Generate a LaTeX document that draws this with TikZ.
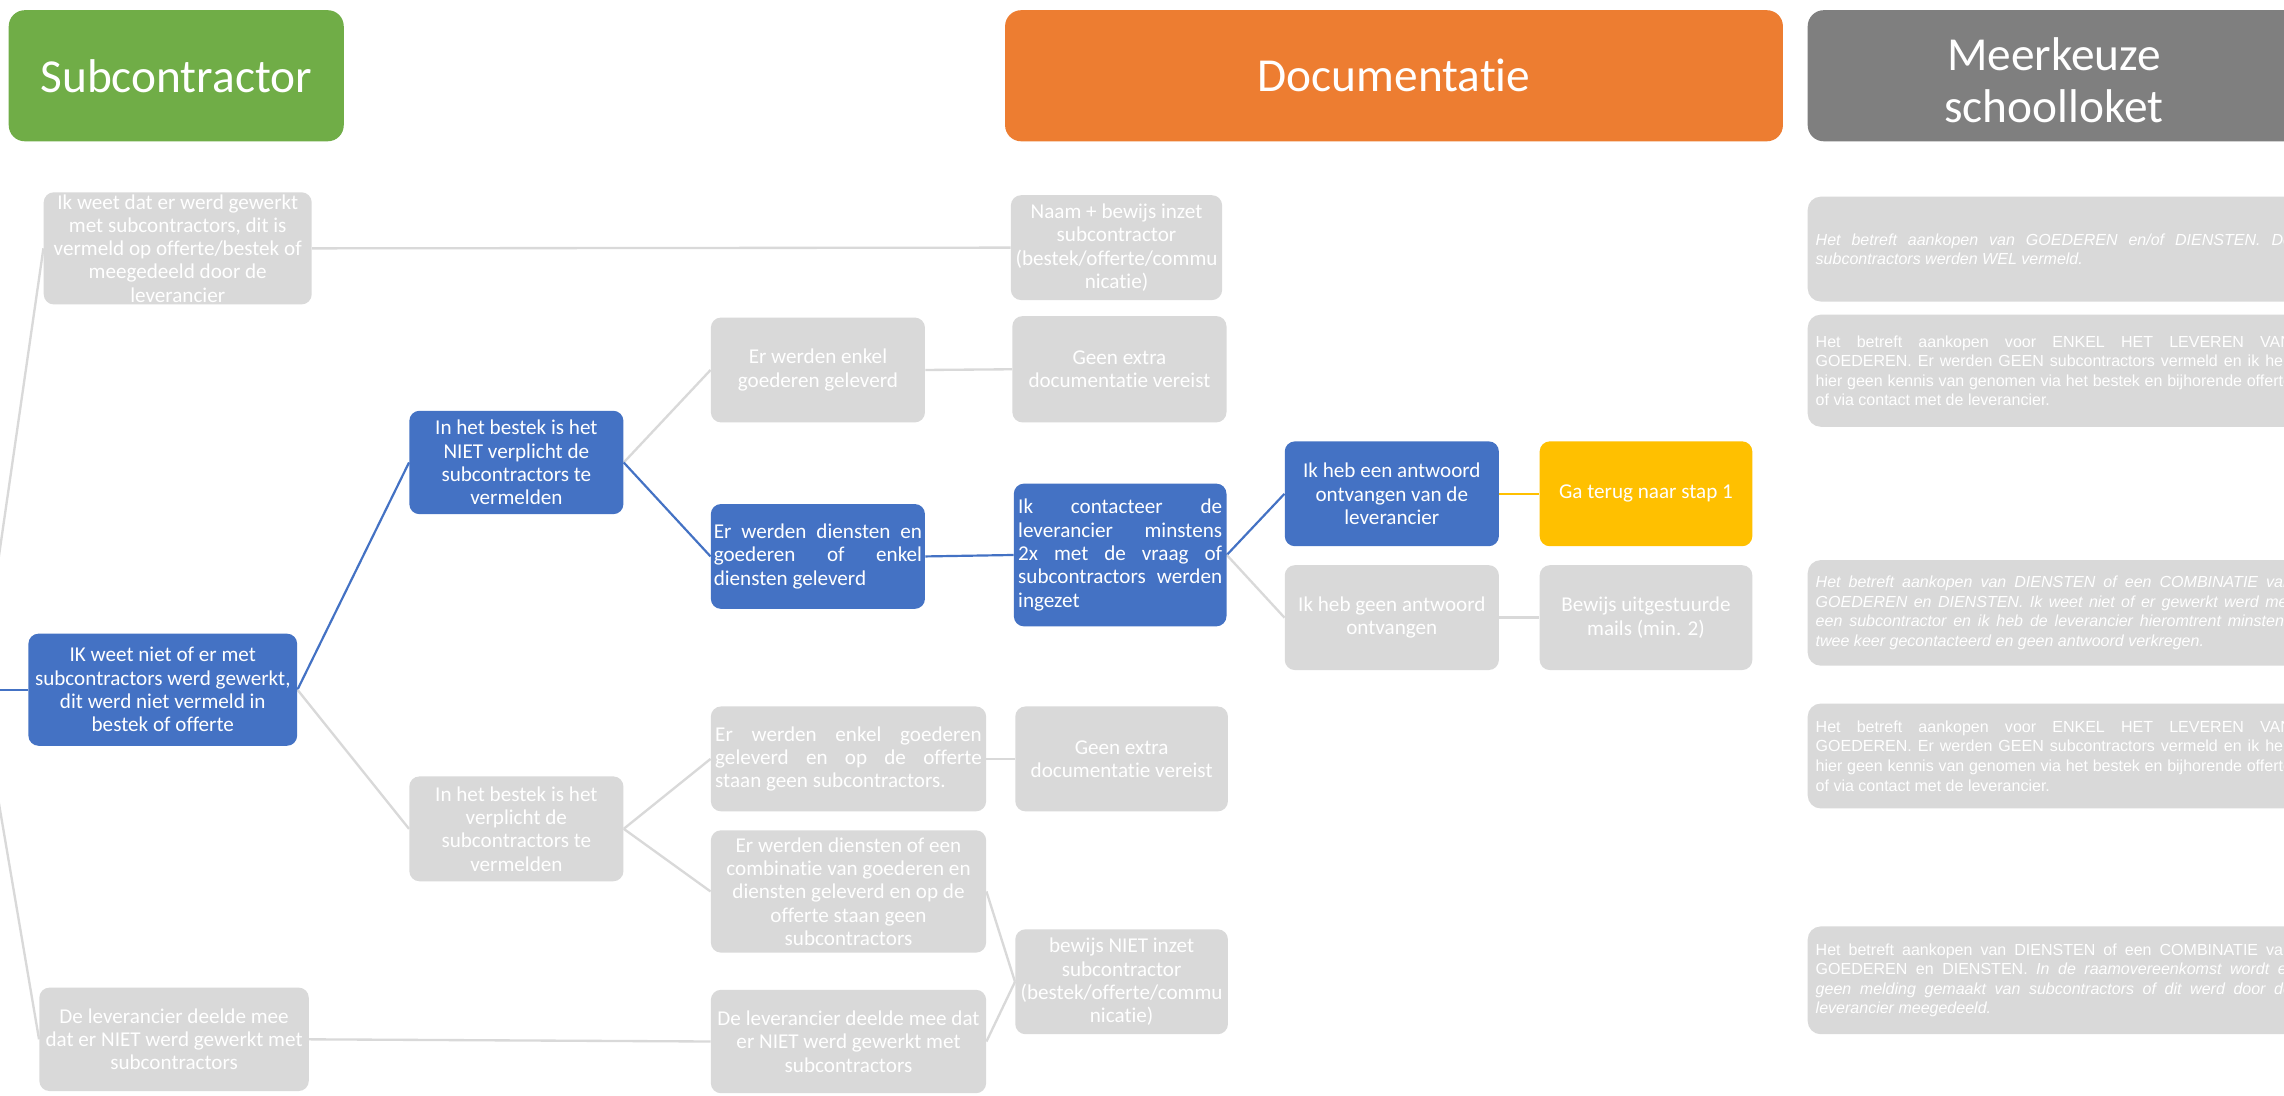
\documentclass[tikz,border=0pt]{standalone}
\usepackage{fontspec}
\setmainfont{Carlito}[Ligatures=NoCommon]
\newfontfamily\arialf{Liberation Sans}
\usetikzlibrary{backgrounds}
\definecolor{cblue}{HTML}{4472C4}
\definecolor{cgray}{HTML}{D9D9D9}
\definecolor{cgreen}{HTML}{70AD47}
\definecolor{corange}{HTML}{ED7D31}
\definecolor{cdark}{HTML}{7F7F7F}
\definecolor{cyellow}{HTML}{FFC000}
\newcommand{\jline}[2]{\makebox[#1][s]{#2}}
\newcommand{\lline}[2]{\makebox[#1][l]{#2}}
\tikzset{
  box/.style={rounded corners=7pt, inner sep=0pt, text=white, align=center,
    font=\fontsize{14.5}{16}\selectfont},
  gbox/.style={box, fill=cgray},
  bbox/.style={box, fill=cblue},
  ybox/.style={box, fill=cyellow},
  sz/.style 2 args={minimum width=#1, minimum height=#2},
  hdr/.style={rounded corners=11pt, inner sep=0pt, text=white, align=center,
    minimum height=90pt, font=\fontsize{32.5}{36}\selectfont},
  hdrtext/.style={inner sep=0pt, text=white, align=center, font=\fontsize{32.5}{36}\selectfont},
  rbox/.style={rounded corners=9pt, fill=cgray, inner sep=0pt, text=white, align=left,
    minimum width=338pt, font=\arialf\fontsize{11}{13.4}\selectfont},
  rboxi/.style={rbox, font=\arialf\itshape\fontsize{11}{13.4}\selectfont},
  gline/.style={draw=cgray, line width=1.6pt},
  bline/.style={draw=cblue, line width=1.5pt},
  yline/.style={draw=cyellow, line width=1.5pt}
}
\begin{document}
\begin{tikzpicture}[x=1pt, y=-1pt]
\useasboundingbox (0,0) rectangle (1568,752.4);
\begin{scope}
\clip (0,0) rectangle (1568,752.4);
% headers
\node[hdr, fill=cgreen, minimum width=230pt] (hsub) at (121,52) {Subcontractor};
\node[hdr, fill=corange, minimum width=534pt] (hdoc) at (957,52) {Documentatie};
\node[hdr, fill=cdark, minimum width=338pt] (hmk) at (1410,52) {};
\node[hdrtext] (hmkt) at (1410,55) {Meerkeuze\\schoolloket};

% column 1
\node[gbox, sz={184pt}{77pt}] (A1) at (122,170.5)
  {Ik weet dat er werd gewerkt\\met subcontractors, dit is\\vermeld op offerte/bestek of\\meegedeeld door de\\leverancier};
\node[bbox, sz={184.5pt}{77pt}] (B) at (111.75,473.5)
  {IK weet niet of er met\\subcontractors werd gewerkt,\\dit werd niet vermeld in\\bestek of offerte};
\node[gbox, sz={185pt}{71pt}] (A3) at (119.5,713.5)
  {De leverancier deelde mee\\dat er NIET werd gewerkt met\\subcontractors};

% column 2
\node[bbox, sz={147pt}{71pt}] (C1) at (354.5,317.5)
  {In het bestek is het\\NIET verplicht de\\subcontractors te\\vermelden};
\node[gbox, sz={147pt}{72pt}] (C2) at (354.5,569)
  {In het bestek is het\\verplicht de\\subcontractors te\\vermelden};

% column 3
\node[gbox, sz={147pt}{72pt}] (D1) at (561.5,254)
  {Er werden enkel\\goederen geleverd};
\node[bbox, sz={147pt}{72pt}] (D2) at (561.5,382)
  {\jline{143pt}{Er werden diensten en}\\\jline{143pt}{goederen of enkel}\\\lline{143pt}{diensten geleverd}};
\node[gbox, sz={189pt}{72pt}] (D3) at (582.5,521)
  {\jline{183pt}{Er werden enkel goederen}\\\jline{183pt}{geleverd en op de offerte}\\\lline{183pt}{staan geen subcontractors.}};
\node[gbox, sz={189pt}{84pt}] (D4) at (582.5,612)
  {Er werden diensten of een\\combinatie van goederen en\\diensten geleverd en op de\\offerte staan geen\\subcontractors};
\node[gbox, sz={189pt}{71pt}] (D5) at (582.5,715)
  {De leverancier deelde mee dat\\er NIET werd gewerkt met\\subcontractors};

% column 4
\node[gbox, sz={145pt}{72pt}] (E1) at (766.5,170)
  {Naam + bewijs inzet\\subcontractor\\(bestek/offerte/commu\\nicatie)};
\node[gbox, sz={147pt}{73pt}] (E2) at (768.5,253.5)
  {Geen extra\\documentatie vereist};
\node[bbox, sz={146pt}{98pt}] (E3) at (769,381)
  {\jline{140pt}{Ik contacteer de}\\\jline{140pt}{leverancier minstens}\\\jline{140pt}{2x met de vraag of}\\\jline{140pt}{subcontractors werden}\\\lline{140pt}{ingezet}};
\node[gbox, sz={146pt}{72pt}] (E4) at (770,521)
  {Geen extra\\documentatie vereist};
\node[gbox, sz={146pt}{72pt}] (E5) at (770,674)
  {bewijs NIET inzet\\subcontractor\\(bestek/offerte/commu\\nicatie)};

% column 5 and 6
\node[bbox, sz={147pt}{72pt}] (F1) at (955.5,339)
  {Ik heb een antwoord\\ontvangen van de\\leverancier};
\node[gbox, sz={147pt}{72pt}] (F2) at (955.5,424)
  {Ik heb geen antwoord\\ontvangen};
\node[ybox, sz={146pt}{72pt}] (G1) at (1130,339)
  {Ga terug naar stap 1};
\node[gbox, sz={146pt}{72pt}] (G2) at (1130,424)
  {Bewijs uitgestuurde\\mails (min. 2)};

% right column
\node[rboxi, minimum height=72pt] (R1) at (1410,171)
  {\jline{327pt}{Het betreft aankopen van GOEDEREN en/of DIENSTEN. De}\\\lline{327pt}{subcontractors werden WEL vermeld.}};
\node[rbox, minimum height=77pt] (R2) at (1410,254.5)
  {\jline{327pt}{Het betreft aankopen voor ENKEL HET LEVEREN VAN}\\\jline{327pt}{GOEDEREN. Er werden GEEN subcontractors vermeld en ik heb}\\\jline{327pt}{hier geen kennis van genomen via het bestek en bijhorende offerte}\\\lline{327pt}{of via contact met de leverancier.}};
\node[rboxi, minimum height=72.5pt] (R3) at (1410,420.75)
  {\jline{327pt}{Het betreft aankopen van DIENSTEN of een COMBINATIE van}\\\jline{327pt}{GOEDEREN en DIENSTEN. Ik weet niet of er gewerkt werd met}\\\jline{327pt}{een subcontractor en ik heb de leverancier hieromtrent minstens}\\\lline{327pt}{twee keer gecontacteerd en geen antwoord verkregen.}};
\node[rbox, minimum height=72pt] (R4) at (1410,519)
  {\jline{327pt}{Het betreft aankopen voor ENKEL HET LEVEREN VAN}\\\jline{327pt}{GOEDEREN. Er werden GEEN subcontractors vermeld en ik heb}\\\jline{327pt}{hier geen kennis van genomen via het bestek en bijhorende offerte}\\\lline{327pt}{of via contact met de leverancier.}};
\node[rbox, minimum height=74pt] (R5) at (1410,673)
  {\jline{327pt}{Het betreft aankopen van DIENSTEN of een COMBINATIE van}\\\jline{327pt}{GOEDEREN en DIENSTEN. \itshape In de raamovereenkomst wordt er}\\\jline{327pt}{\itshape geen melding gemaakt van subcontractors of dit werd door de}\\\lline{327pt}{\itshape leverancier meegedeeld.}};
\end{scope}

\coordinate (root) at (-14,473.5);

\begin{scope}[on background layer]
\fill[white] (0,0) rectangle (1568,752.4);
\clip (0,0) rectangle (1568,752.4);
\draw[gline] (root) -- (A1.west);
\draw[gline] (root) -- (A3.west);
\draw[bline] (root) -- (B.west);
\draw[gline] (A1.east) -- (E1.west);
\draw[bline] (B.east) -- (C1.west);
\draw[gline] (B.east) -- (C2.west);
\draw[gline] (C1.east) -- (D1.west);
\draw[bline] (C1.east) -- (D2.west);
\draw[gline] (D1.east) -- (E2.west);
\draw[bline] (D2.east) -- (E3.west);
\draw[bline] (E3.east) -- (F1.west);
\draw[gline] (E3.east) -- (F2.west);
\draw[yline] (F1.east) -- (G1.west);
\draw[gline] (F2.east) -- (G2.west);
\draw[gline] (C2.east) -- (D3.west);
\draw[gline] (C2.east) -- (D4.west);
\draw[gline] (D3.east) -- (E4.west);
\draw[gline] (D4.east) -- (E5.west);
\draw[gline] (D5.east) -- (E5.west);
\draw[gline] (A3.east) -- (D5.west);
\end{scope}
\end{tikzpicture}
\end{document}
